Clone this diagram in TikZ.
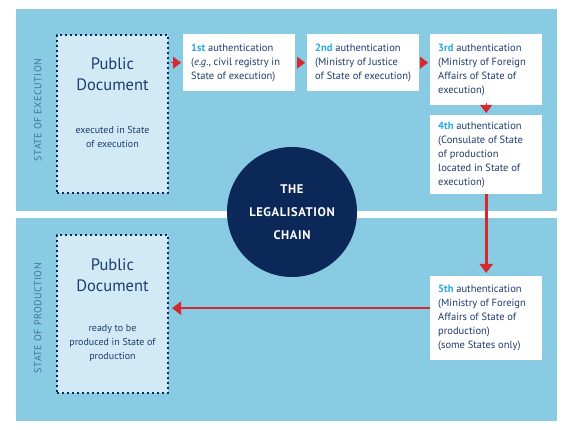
\documentclass[tikz,border=0pt]{standalone}
\usepackage{fontspec}
\setmainfont{PT Sans}
\usepackage{tikz}
\usetikzlibrary{arrows.meta,positioning,calc}
\definecolor{bandBlue}{HTML}{8ACBE4}
\definecolor{docFill}{HTML}{D2EAF5}
\definecolor{navy}{HTML}{0B2859}
\definecolor{chainRed}{HTML}{D42A2F}
\definecolor{ink}{HTML}{1E3B6E}
\definecolor{numCyan}{HTML}{27A9E1}
\definecolor{sideInk}{HTML}{45709E}
\newcommand{\ordnum}[1]{\textcolor{numCyan}{\bfseries#1}}

\begin{document}
\begin{tikzpicture}[x=1pt,y=-1pt,
  doc/.style={draw=navy,fill=docFill,line width=2pt,dash pattern=on 2pt off 3pt,minimum width=111pt,minimum height=158pt,anchor=north west},
  doctitle/.style={text=ink,align=center,font=\fontsize{16.5}{21}\selectfont},
  docnote/.style={text=ink,align=center,font=\fontsize{10}{14}\selectfont},
  auth/.style={fill=white,anchor=north west,text width=96pt,inner xsep=8pt,align=flush left,text=ink,font=\fontsize{10.5}{14}\selectfont},
  side/.style={rotate=90,text=sideInk,font=\fontsize{10}{12}\selectfont\addfontfeatures{LetterSpace=5}},
  link/.style={chainRed,line width=2.6pt,-{Triangle[length=9pt,width=13pt]},shorten >=3pt},
  hop/.style={chainRed,line width=0.4pt,-{Triangle[length=8pt,width=12pt]},shorten <=2pt,shorten >=2pt}]
\useasboundingbox (0,0) rectangle (576,430);
% the two bands
\fill[bandBlue] (16,9) rectangle (557,211);
\fill[bandBlue] (16,218) rectangle (557,421);
\node[side] (sideExec) at (38,110) {STATE OF EXECUTION};
\node[side] (sideProd) at (38,318) {STATE OF PRODUCTION};
% public documents
\node[doc] (pub1) at (56,34) {};
\node[doctitle] (pub1t) at (112.5,74) {Public\\Document};
\node[docnote] (pub1n) at (112.5,137) {executed in State\\of execution};
\node[doc] (pub2) at (56,234) {};
\node[doctitle] (pub2t) at (112.5,275) {Public\\Document};
\node[docnote] (pub2n) at (112.5,343) {ready to be\\produced in State of\\production};
% the chain
\node[circle,fill=navy,minimum size=130pt,text=white,align=center,font=\fontsize{12.5}{23}\selectfont\bfseries\addfontfeatures{LetterSpace=5}] (chain) at (292,212) {THE\\LEGALISATION\\CHAIN};
\node[auth,minimum height=57pt] (b1) at (183,34) {\ordnum{1st} authentication\\(\textit{e.g.}, civil registry in\\State of execution)};
\node[auth,minimum height=57pt] (b2) at (307,34) {\ordnum{2nd} authentication\\(Ministry of Justice\\of State of execution)};
\node[auth,minimum height=71pt] (b3) at (430,34) {\ordnum{3rd} authentication\\(Ministry of Foreign\\Affairs of State of\\execution)};
\node[auth,minimum height=79pt] (b4) at (430,115) {\ordnum{4th} authentication\\(Consulate of State\\of production\\located in State of\\execution)};
\node[auth,minimum height=84pt] (b5) at (430,276) {\ordnum{5th} authentication\\(Ministry of Foreign\\Affairs of State of\\production)\\(some States only)};
\coordinate (b5in) at ([yshift=10pt]b5.west);
% arrows
\draw[hop] (pub1.east |- b1.west) -- (b1.west);
\draw[hop] (b1.east) -- (b1.east -| b2.west);
\draw[hop] (b2.east) -- (b2.east -| b3.west);
\draw[hop] (b3.south) -- (b4.north);
\draw[link] (b4.south) -- (b5.north);
\draw[link] (b5in) -- (b5in -| pub2.east);
\end{tikzpicture}
\end{document}
